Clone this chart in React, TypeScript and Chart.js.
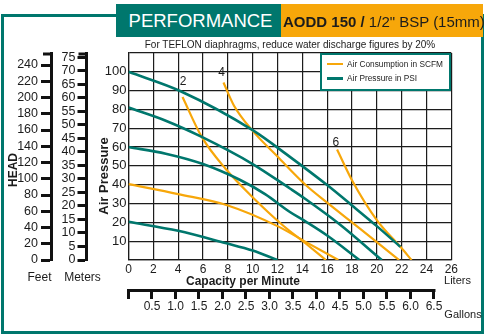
import { useEffect, useRef } from 'react';
import { Chart, registerables } from 'chart.js';

Chart.register(...registerables);

const TEAL = '#00776d';
const ORANGE = '#f7a70a';
const INK = '#1c1c1c';
const FONT = '"Liberation Sans", Arial, Helvetica, sans-serif';

// Air pressure curves (flow in litres/min, head in psi)
const flow100 = [0, 4.2, 10, 13, 16, 18, 20, 21.9];
const head100 = [100, 89.7, 69, 54.8, 39.8, 29, 18, 7];
const flow80 = [0, 3, 5.9, 10, 13, 14.25, 17, 20.4];
const head80 = [81, 74, 65.4, 51, 38, 32.4, 19, 0];
const flow60 = [0, 3, 6, 9, 11, 13, 14.25, 16, 18.6];
const head60 = [60, 56.5, 51, 42.5, 35, 25.5, 20.5, 13, 0];
const flow40 = [0, 4, 8, 12, 14.3, 16.9];
const head40 = [40.3, 35, 29, 18, 9.5, 0];
const flow20 = [0, 4, 7.8, 10, 12];
const head20 = [20.3, 15.5, 9, 5, 0];

// Air consumption curves (SCFM)
const flowC2 = [4.35, 5.9, 7.8, 10.1, 12.4, 14.25, 15.9];
const headC2 = [86.6, 65.4, 48.6, 32.7, 18.6, 8.9, 0];
const flowC4 = [7.65, 8.5, 9.95, 12, 14.25, 16, 18, 20, 21.8];
const headC4 = [94.3, 82, 69, 55, 40, 30.5, 20, 9.5, 0];
const flowC6 = [16.8, 18, 20, 21.9, 22.8];
const headC6 = [58.7, 42.4, 21.2, 7, 0];

const curveLabels = ['2', '4', '6'];
const curveLabelFlow = [4.4, 7.5, 16.7];
const curveLabelHead = [94.5, 99.3, 62.2];

const LITRES_PER_GALLON = 3.785411784;
const xMax = 26;
const yMax = 110;
const feetMax = 254.8;
const metersMax = 76.5;
const gallonLastTick = 6.5;

const pts = (xs: number[], ys: number[]) => xs.map((x, i) => ({ x, y: ys[i] }));

const decorPlugin = {
  id: 'decor',
  afterDraw(chart: any) {
    const ctx = chart.ctx;
    const sx = chart.scales.x;
    const sy = chart.scales.y;
    const g = chart.scales.xGal;
    const f = chart.scales.yFeet;
    const m = chart.scales.yMeters;
    ctx.save();
    ctx.strokeStyle = '#111';
    ctx.lineWidth = 3;
    ctx.beginPath();
    ctx.moveTo(g.getPixelForValue(0) - 1.5, g.top + 1.5);
    ctx.lineTo(g.getPixelForValue(gallonLastTick) + 1.5, g.top + 1.5);
    ctx.stroke();
    for (const s of [f, m]) {
      ctx.beginPath();
      ctx.moveTo(s.right - 8, s.top + 1);
      ctx.lineTo(s.right + 1.5, s.top + 1);
      ctx.stroke();
    }
    ctx.fillStyle = INK;
    ctx.font = '12px ' + FONT;
    ctx.textAlign = 'center';
    ctx.textBaseline = 'middle';
    curveLabels.forEach((t, i) => {
      ctx.fillText(t, sx.getPixelForValue(curveLabelFlow[i]), sy.getPixelForValue(curveLabelHead[i]));
    });
    ctx.restore();
  },
};

function PumpChart() {
  const ref = useRef<HTMLCanvasElement | null>(null);
  useEffect(() => {
    if (!ref.current) return;
    const line = (data: any[], color: string, width: number) => ({
      data,
      borderColor: color,
      backgroundColor: color,
      borderWidth: width,
      pointRadius: 0,
      fill: false,
      cubicInterpolationMode: 'monotone' as const,
    });
    const chart = new Chart(ref.current, {
      type: 'line',
      data: {
        datasets: [
          line(pts(flow100, head100), TEAL, 2.6),
          line(pts(flow80, head80), TEAL, 2.6),
          line(pts(flow60, head60), TEAL, 2.6),
          line(pts(flow40, head40), ORANGE, 2.2),
          line(pts(flow20, head20), TEAL, 2.6),
          line(pts(flowC2, headC2), ORANGE, 2.2),
          line(pts(flowC4, headC4), ORANGE, 2.2),
          line(pts(flowC6, headC6), ORANGE, 2.2),
        ],
      },
      options: {
        responsive: false,
        animation: false,
        devicePixelRatio: 1,
        layout: { autoPadding: false, padding: { left: 5, top: 53, right: 35.7, bottom: 16 } },
        plugins: { legend: { display: false }, tooltip: { enabled: false } },
        scales: {
          x: {
            type: 'linear',
            position: 'bottom',
            weight: 0,
            min: 0,
            max: xMax,
            ticks: { stepSize: 2, color: INK, font: { size: 12, family: FONT }, padding: 2, maxRotation: 0 },
            grid: { color: INK, lineWidth: 1.2, drawTicks: false },
            border: { color: INK, width: 1.2 },
            afterFit: (s: any) => { s.height = 29; },
          },
          xGal: {
            type: 'linear',
            position: 'bottom',
            weight: 1,
            min: 0,
            max: xMax / LITRES_PER_GALLON,
            ticks: {
              stepSize: 0.5,
              includeBounds: false,
              color: INK,
              font: { size: 12, family: FONT },
              padding: 0,
              maxRotation: 0,
              autoSkip: false,
              callback: (v: any) => (v === 0 ? '' : Number(v).toFixed(1)),
            },
            grid: { drawOnChartArea: false, tickLength: 10, tickWidth: 3, tickColor: '#111' },
            border: { display: false },
            afterFit: (s: any) => { s.height = 31; },
          },
          y: {
            type: 'linear',
            position: 'left',
            weight: 0,
            min: 0,
            max: yMax,
            ticks: {
              stepSize: 10,
              color: INK,
              font: { size: 13, family: FONT },
              padding: 2,
              callback: (v: any) => (v === 0 || v === yMax ? '' : String(v)),
            },
            grid: { color: INK, lineWidth: 1.2, drawTicks: false },
            border: { color: INK, width: 1.2 },
            afterFit: (s: any) => { s.width = 42; },
          },
          yMeters: {
            type: 'linear',
            position: 'left',
            weight: 1,
            min: 0,
            max: metersMax,
            ticks: { stepSize: 5, includeBounds: false, autoSkip: false, color: INK, font: { size: 12.5, family: FONT }, padding: 2 },
            grid: { drawOnChartArea: false, tickLength: 9, tickWidth: 3, tickColor: '#111' },
            border: { color: '#111', width: 3 },
            afterFit: (s: any) => { s.width = 35.5; },
          },
          yFeet: {
            type: 'linear',
            position: 'left',
            weight: 2,
            min: 0,
            max: feetMax,
            ticks: { stepSize: 20, includeBounds: false, autoSkip: false, color: INK, font: { size: 12.5, family: FONT }, padding: 3 },
            grid: { drawOnChartArea: false, tickLength: 10, tickWidth: 3, tickColor: '#111' },
            border: { color: '#111', width: 3 },
            afterFit: (s: any) => { s.width = 46; },
          },
        },
      },
      plugins: [decorPlugin],
    } as any);
    return () => chart.destroy();
  }, []);
  return <canvas ref={ref} width={487} height={336} style={{ position: 'absolute', left: 0, top: 0, width: 487, height: 336 }} />;
}

const abs = (x: number, y: number, extra: any = {}) => ({
  position: 'absolute' as const,
  left: x,
  top: y,
  transform: 'translate(-50%, -50%)',
  whiteSpace: 'nowrap' as const,
  color: INK,
  fontFamily: FONT,
  lineHeight: 1,
  ...extra,
});

export default function App() {
  return (
    <div style={{ position: 'absolute', left: 0, top: 0, width: 487, height: 336, background: '#fff', overflow: 'hidden', fontFamily: FONT }}>
      <div style={{ position: 'absolute', left: 1, top: 14, width: 483, height: 320, border: `3px solid ${TEAL}`, boxSizing: 'border-box' }} />
      <PumpChart />
      <div style={{ position: 'absolute', left: 116, top: 4, width: 165, height: 33, background: TEAL }} />
      <div style={{ position: 'absolute', left: 281, top: 4, width: 202, height: 33, background: ORANGE }} />
      <div style={abs(200.5, 21, { color: '#fff', fontSize: 18.5 })}>PERFORMANCE</div>
      <div style={{ position: 'absolute', left: 283, top: 21, transform: 'translateY(-50%)', whiteSpace: 'nowrap', fontSize: 15, color: INK, lineHeight: 1 }}>
        <b>AODD 150 /</b> 1/2" BSP (15mm)
      </div>
      <div style={abs(290, 45, { fontSize: 10 })}>For TEFLON diaphragms, reduce water discharge figures by 20%</div>
      <div style={{ position: 'absolute', left: 320, top: 53, width: 131, height: 38, border: `2.5px solid ${TEAL}`, boxSizing: 'border-box', background: '#fff' }}>
        <div style={{ position: 'absolute', left: 5, top: 8, width: 16, height: 2, background: ORANGE }} />
        <div style={{ position: 'absolute', left: 25, top: 9, transform: 'translateY(-50%)', fontSize: 8.3, color: INK, whiteSpace: 'nowrap', lineHeight: 1 }}>Air Consumption in SCFM</div>
        <div style={{ position: 'absolute', left: 5, top: 22, width: 16, height: 2.5, background: TEAL }} />
        <div style={{ position: 'absolute', left: 25, top: 23, transform: 'translateY(-50%)', fontSize: 8.3, color: INK, whiteSpace: 'nowrap', lineHeight: 1 }}>Air Pressure in PSI</div>
      </div>
      <div style={abs(13, 170, { fontSize: 12, fontWeight: 'bold', transform: 'translate(-50%, -50%) rotate(-90deg)' })}>HEAD</div>
      <div style={abs(102.5, 176, { fontSize: 13, fontWeight: 'bold', transform: 'translate(-50%, -50%) rotate(-90deg)' })}>Air Pressure</div>
      <div style={abs(39.5, 277, { fontSize: 12 })}>Feet</div>
      <div style={abs(82.5, 277, { fontSize: 12 })}>Meters</div>
      <div style={abs(243, 281, { fontSize: 12, fontWeight: 'bold' })}>Capacity per Minute</div>
      <div style={abs(457.5, 280, { fontSize: 11 })}>Liters</div>
      <div style={abs(463, 314, { fontSize: 11 })}>Gallons</div>
    </div>
  );
}
